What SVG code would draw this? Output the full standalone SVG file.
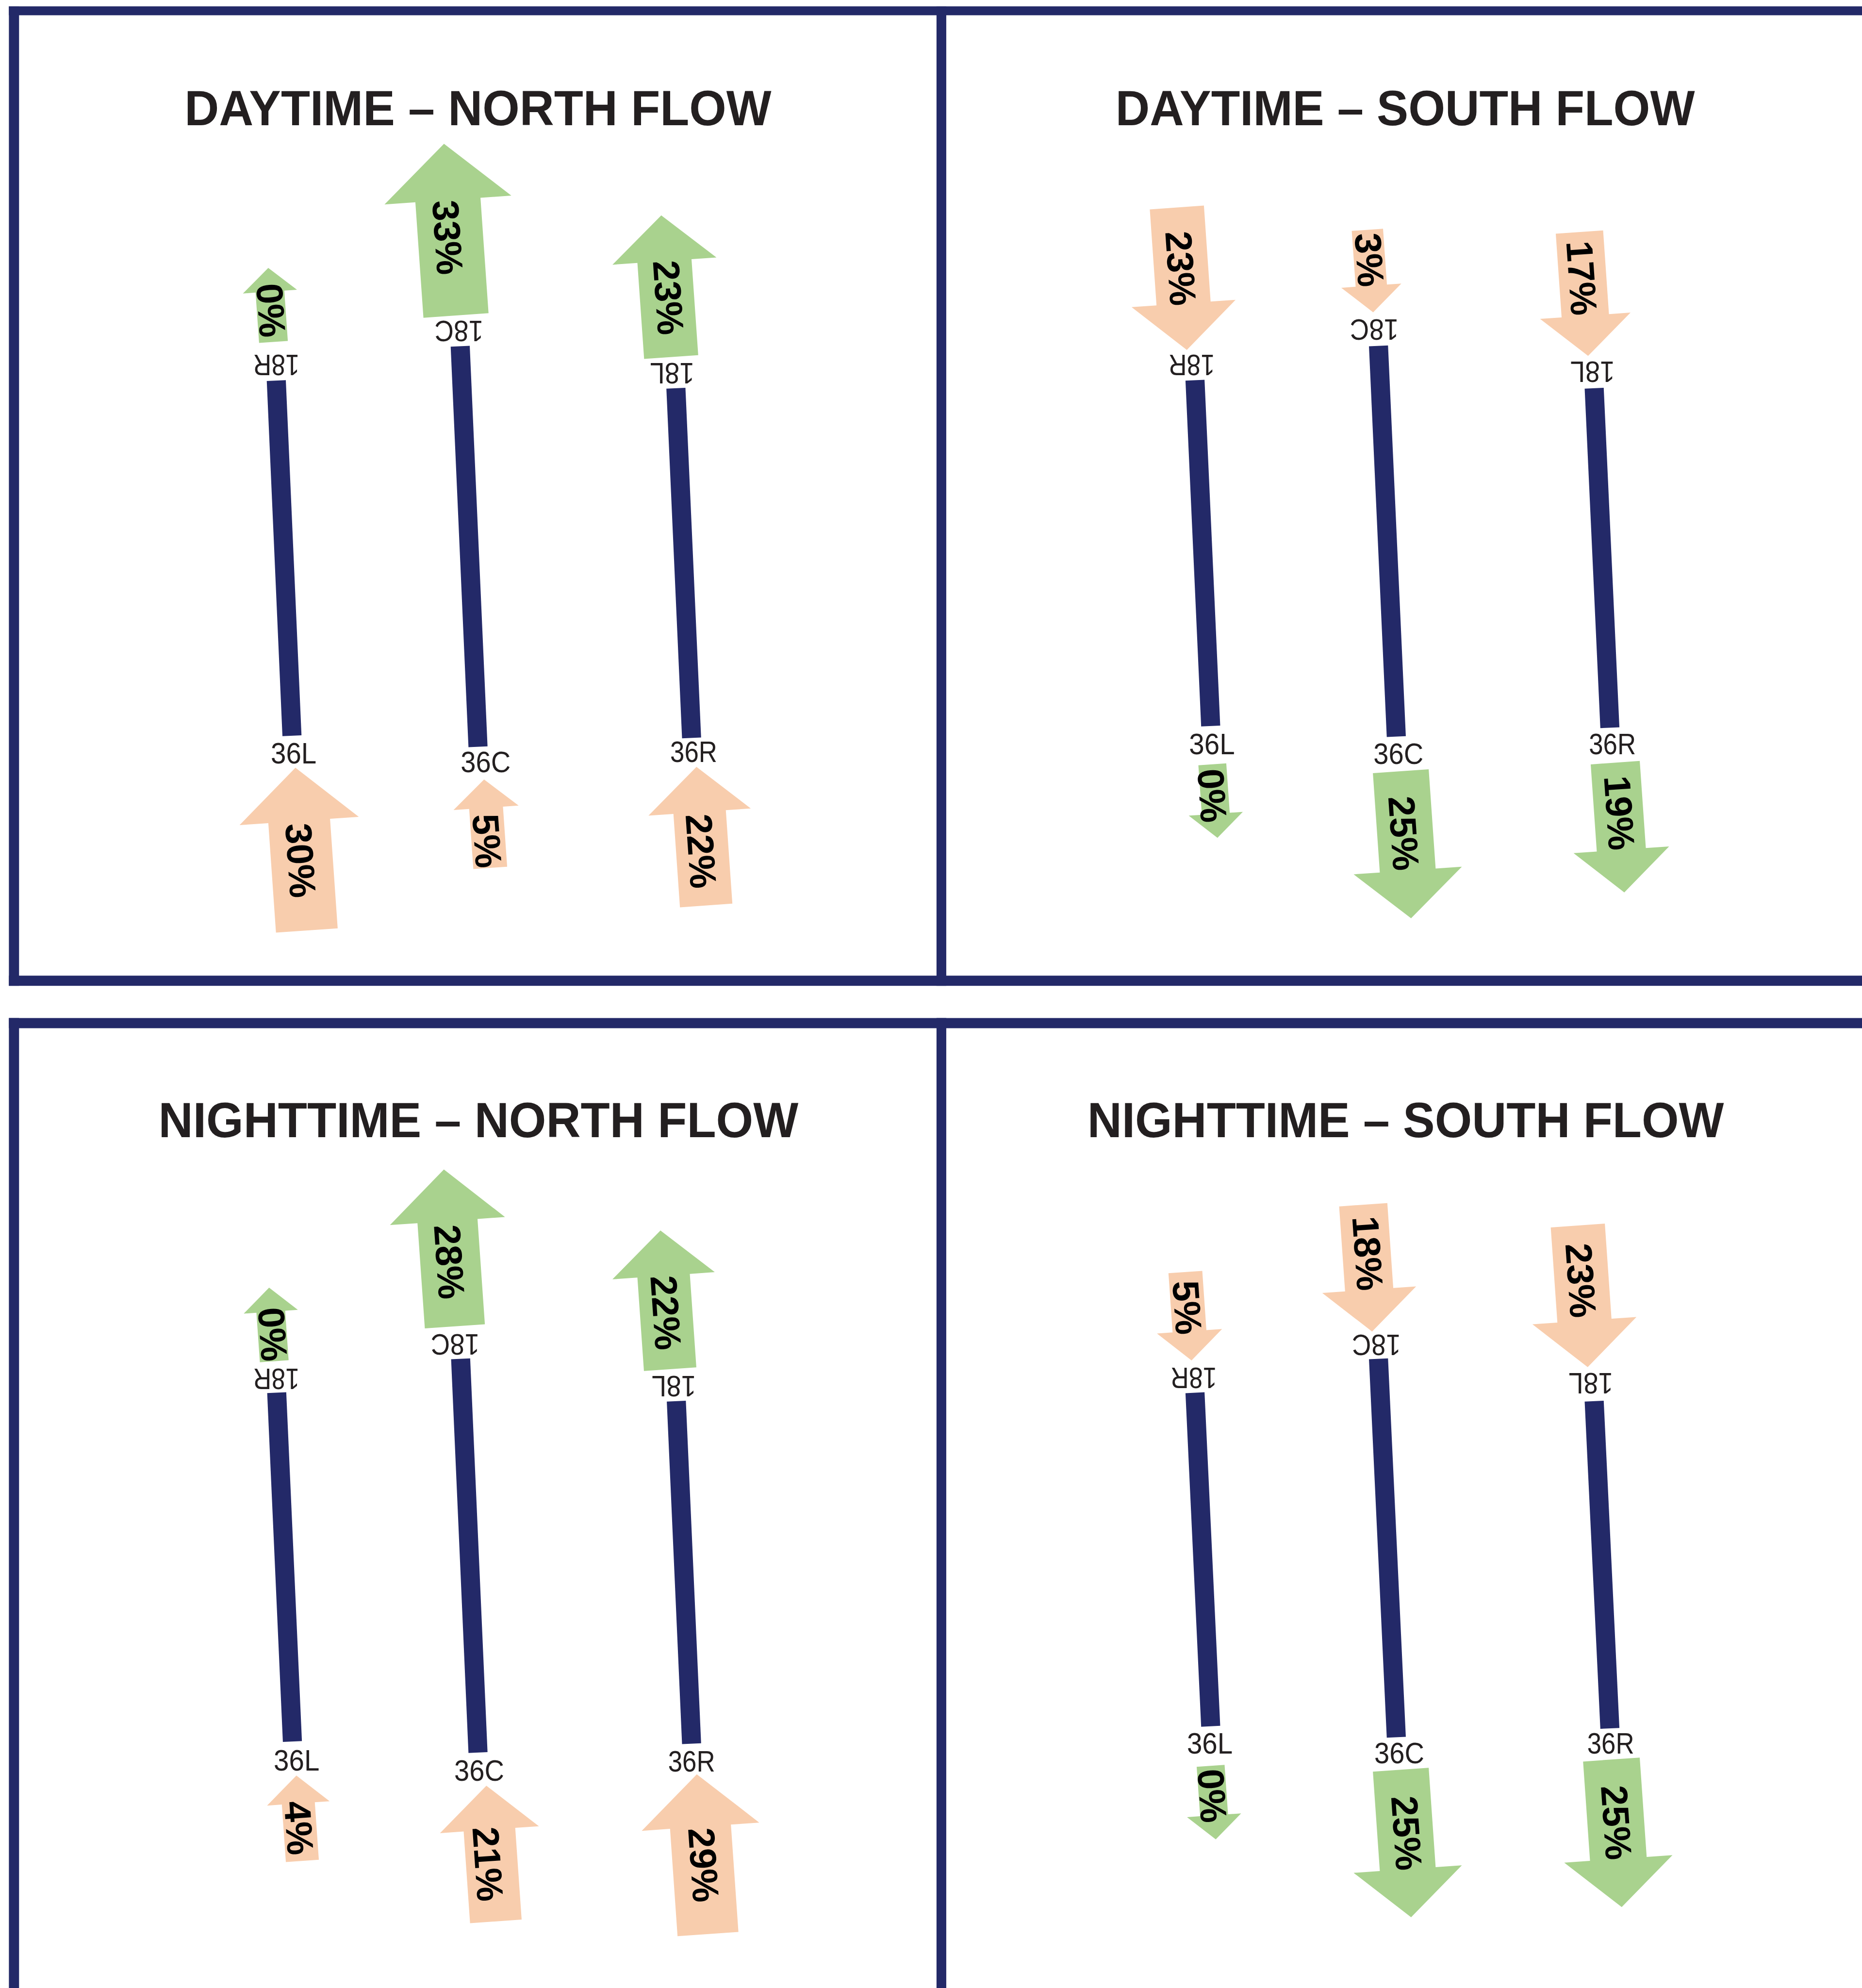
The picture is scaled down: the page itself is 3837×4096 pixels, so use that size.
<svg xmlns="http://www.w3.org/2000/svg" width="3837" height="4096" viewBox="0 0 3837 4096">
<style>
.bar{fill:#232968}
.rw{stroke:#232968;stroke-width:45;stroke-linecap:butt;fill:none}
.green{fill:#a9d28e}
.peach{fill:#f8cdad}
.title{font-family:"Liberation Sans",Arial,sans-serif;font-weight:bold;font-size:116px;fill:#231f20;text-anchor:middle}
.lbl{font-family:"Liberation Sans",Arial,sans-serif;font-size:70px;fill:#231f20;text-anchor:middle}
.pct{font-family:"Liberation Sans",Arial,sans-serif;font-weight:bold;font-size:88px;fill:#000;text-anchor:middle}
</style>
<rect width="3837" height="4096" fill="#fff"/>
<g transform="scale(0.87324)">
<g id="frame">
<rect class="bar" x="21" y="15" width="4373" height="21"/>
<rect class="bar" x="21" y="15" width="24" height="2311"/>
<rect class="bar" x="2210" y="15" width="23" height="2311"/>
<rect class="bar" x="21" y="2302" width="4373" height="24"/>
<rect class="bar" x="21" y="2402" width="4373" height="24"/>
<rect class="bar" x="21" y="2402" width="24" height="2289"/>
<rect class="bar" x="2210" y="2402" width="23" height="2289"/>
</g>

<!-- DAYTIME NORTH -->
<g id="panel-day-north">
<text class="title" x="1128" y="295" textLength="1385" lengthAdjust="spacingAndGlyphs">DAYTIME – NORTH FLOW</text>
<g id="dn-runway-L"><line class="rw" x1="652" y1="898" x2="689" y2="1736"/><text class="lbl" transform="translate(652 862) rotate(180)" y="25" textLength="109" lengthAdjust="spacingAndGlyphs">18R</text><text class="lbl" x="693" y="1801" textLength="108" lengthAdjust="spacingAndGlyphs">36L</text></g>
<g id="dn-runway-C"><line class="rw" x1="1086" y1="817" x2="1128" y2="1762"/><text class="lbl" transform="translate(1083 782) rotate(180)" y="25" textLength="115" lengthAdjust="spacingAndGlyphs">18C</text><text class="lbl" x="1146" y="1822" textLength="118" lengthAdjust="spacingAndGlyphs">36C</text></g>
<g id="dn-runway-R"><line class="rw" x1="1595" y1="916" x2="1632" y2="1741"/><text class="lbl" transform="translate(1586 882) rotate(180)" y="25" textLength="105" lengthAdjust="spacingAndGlyphs">18L</text><text class="lbl" x="1637" y="1798" textLength="111" lengthAdjust="spacingAndGlyphs">36R</text></g>
<g id="dn-arrow-18R"><polygon class="green" transform="translate(637 688) rotate(-4)" points="0,-56 64,0 34,0 34,119 -34,119 -34,0 -64,0"/><text class="pct" transform="translate(641 732) rotate(86)" y="32">0%</text></g>
<g id="dn-arrow-18C"><polygon class="green" transform="translate(1057 472) rotate(-4)" points="0,-133 150,0 77,0 77,273 -77,273 -77,0 -150,0"/><text class="pct" transform="translate(1058 560) rotate(86)" y="32">33%</text></g>
<g id="dn-arrow-18L"><polygon class="green" transform="translate(1568 616) rotate(-4)" points="0,-108 123,0 64,0 64,227 -64,227 -64,0 -123,0"/><text class="pct" transform="translate(1579 702) rotate(86)" y="32">23%</text></g>
<g id="dn-arrow-36L"><polygon class="peach" transform="translate(706 1937) rotate(-4)" points="0,-126 141,0 73,0 73,259 -73,259 -73,0 -141,0"/><text class="pct" transform="translate(711 2030) rotate(86)" y="32">30%</text></g>
<g id="dn-arrow-36C"><polygon class="peach" transform="translate(1147 1906) rotate(-4)" points="0,-67 77,0 40,0 40,142 -40,142 -40,0 -77,0"/><text class="pct" transform="translate(1151 1984) rotate(86)" y="32">5%</text></g>
<g id="dn-arrow-36R"><polygon class="peach" transform="translate(1651 1916) rotate(-4)" points="0,-107 121,0 62,0 62,221 -62,221 -62,0 -121,0"/><text class="pct" transform="translate(1656 2008) rotate(86)" y="32">22%</text></g>
</g>

<!-- DAYTIME SOUTH -->
<g id="panel-day-south">
<text class="title" x="3316" y="295" textLength="1367" lengthAdjust="spacingAndGlyphs">DAYTIME – SOUTH FLOW</text>
<g id="ds-runway-L"><line class="rw" x1="2820" y1="897" x2="2857" y2="1713"/><text class="lbl" transform="translate(2812 862) rotate(180)" y="25" textLength="109" lengthAdjust="spacingAndGlyphs">18R</text><text class="lbl" x="2860" y="1780" textLength="108" lengthAdjust="spacingAndGlyphs">36L</text></g>
<g id="ds-runway-C"><line class="rw" x1="3253" y1="816" x2="3295" y2="1738"/><text class="lbl" transform="translate(3243 778) rotate(180)" y="25" textLength="115" lengthAdjust="spacingAndGlyphs">18C</text><text class="lbl" x="3300" y="1803" textLength="118" lengthAdjust="spacingAndGlyphs">36C</text></g>
<g id="ds-runway-R"><line class="rw" x1="3762" y1="916" x2="3799" y2="1717"/><text class="lbl" transform="translate(3758 878) rotate(180)" y="25" textLength="105" lengthAdjust="spacingAndGlyphs">18L</text><text class="lbl" x="3805" y="1780" textLength="111" lengthAdjust="spacingAndGlyphs">36R</text></g>
<g id="ds-arrow-18R"><polygon class="peach" transform="translate(2793 716) rotate(-4)" points="0,110 -123,0 -64,0 -64,-227 64,-227 64,0 123,0"/><text class="pct" transform="translate(2788 633) rotate(86)" y="32">23%</text></g>
<g id="ds-arrow-18C"><polygon class="peach" transform="translate(3236 674) rotate(-4)" points="0,63 -71,0 -37,0 -37,-132 37,-132 37,0 71,0"/><text class="pct" transform="translate(3233 613) rotate(86)" y="32">3%</text></g>
<g id="ds-arrow-18L"><polygon class="peach" transform="translate(3741 745) rotate(-4)" points="0,95 -107,0 -56,0 -56,-198 56,-198 56,0 107,0"/><text class="pct" transform="translate(3734 656) rotate(86)" y="32">17%</text></g>
<g id="ds-arrow-36L"><polygon class="green" transform="translate(2869 1920) rotate(-4)" points="0,57 -64,0 -33,0 -33,-117 33,-117 33,0 64,0"/><text class="pct" transform="translate(2862 1877) rotate(86)" y="32">0%</text></g>
<g id="ds-arrow-36C"><polygon class="green" transform="translate(3322 2054) rotate(-4)" points="0,113 -128,0 -66,0 -66,-235 66,-235 66,0 128,0"/><text class="pct" transform="translate(3314 1966) rotate(86)" y="32">25%</text></g>
<g id="ds-arrow-36R"><polygon class="green" transform="translate(3826 2005) rotate(-4)" points="0,101 -113,0 -58,0 -58,-206 58,-206 58,0 113,0"/><text class="pct" transform="translate(3823 1918) rotate(86)" y="32">19%</text></g>
</g>

<!-- NIGHTTIME NORTH -->
<g id="panel-night-north">
<text class="title" x="1129" y="2683" textLength="1510" lengthAdjust="spacingAndGlyphs">NIGHTTIME – NORTH FLOW</text>
<g id="nn-runway-L"><line class="rw" x1="653" y1="3286" x2="690" y2="4109"/><text class="lbl" transform="translate(652 3254) rotate(180)" y="25" textLength="109" lengthAdjust="spacingAndGlyphs">18R</text><text class="lbl" x="700" y="4177" textLength="108" lengthAdjust="spacingAndGlyphs">36L</text></g>
<g id="nn-runway-C"><line class="rw" x1="1087" y1="3206" x2="1128" y2="4135"/><text class="lbl" transform="translate(1074 3173) rotate(180)" y="25" textLength="115" lengthAdjust="spacingAndGlyphs">18C</text><text class="lbl" x="1131" y="4202" textLength="118" lengthAdjust="spacingAndGlyphs">36C</text></g>
<g id="nn-runway-R"><line class="rw" x1="1596" y1="3306" x2="1632" y2="4114"/><text class="lbl" transform="translate(1590 3272) rotate(180)" y="25" textLength="105" lengthAdjust="spacingAndGlyphs">18L</text><text class="lbl" x="1632" y="4180" textLength="111" lengthAdjust="spacingAndGlyphs">36R</text></g>
<g id="nn-arrow-18R"><polygon class="green" transform="translate(639 3095) rotate(-4)" points="0,-57 64,0 34,0 34,117 -34,117 -34,0 -64,0"/><text class="pct" transform="translate(645 3148) rotate(86)" y="32">0%</text></g>
<g id="nn-arrow-18C"><polygon class="green" transform="translate(1056 2881) rotate(-4)" points="0,-122 136,0 71,0 71,249 -71,249 -71,0 -136,0"/><text class="pct" transform="translate(1062 2977) rotate(86)" y="32">28%</text></g>
<g id="nn-arrow-18L"><polygon class="green" transform="translate(1566 3010) rotate(-4)" points="0,-107 121,0 62,0 62,221 -62,221 -62,0 -121,0"/><text class="pct" transform="translate(1573 3097) rotate(86)" y="32">22%</text></g>
<g id="nn-arrow-36L"><polygon class="peach" transform="translate(704 4255) rotate(-4)" points="0,-66 74,0 39,0 39,136 -39,136 -39,0 -74,0"/><text class="pct" transform="translate(707 4313) rotate(86)" y="32">4%</text></g>
<g id="nn-arrow-36C"><polygon class="peach" transform="translate(1155 4317) rotate(-4)" points="0,-104 117,0 61,0 61,217 -61,217 -61,0 -117,0"/><text class="pct" transform="translate(1153 4398) rotate(86)" y="32">21%</text></g>
<g id="nn-arrow-36R"><polygon class="peach" transform="translate(1653 4310) rotate(-4)" points="0,-124 139,0 72,0 72,254 -72,254 -72,0 -139,0"/><text class="pct" transform="translate(1662 4400) rotate(86)" y="32">29%</text></g>
</g>

<!-- NIGHTTIME SOUTH -->
<g id="panel-night-south">
<text class="title" x="3317" y="2683" textLength="1502" lengthAdjust="spacingAndGlyphs">NIGHTTIME – SOUTH FLOW</text>
<g id="ns-runway-L"><line class="rw" x1="2820" y1="3286" x2="2857" y2="4073"/><text class="lbl" transform="translate(2817 3252) rotate(180)" y="25" textLength="109" lengthAdjust="spacingAndGlyphs">18R</text><text class="lbl" x="2855" y="4138" textLength="108" lengthAdjust="spacingAndGlyphs">36L</text></g>
<g id="ns-runway-C"><line class="rw" x1="3253" y1="3206" x2="3295" y2="4099"/><text class="lbl" transform="translate(3248 3174) rotate(180)" y="25" textLength="115" lengthAdjust="spacingAndGlyphs">18C</text><text class="lbl" x="3302" y="4160" textLength="118" lengthAdjust="spacingAndGlyphs">36C</text></g>
<g id="ns-runway-R"><line class="rw" x1="3762" y1="3306" x2="3799" y2="4078"/><text class="lbl" transform="translate(3754 3265) rotate(180)" y="25" textLength="105" lengthAdjust="spacingAndGlyphs">18L</text><text class="lbl" x="3801" y="4138" textLength="111" lengthAdjust="spacingAndGlyphs">36R</text></g>
<g id="ns-arrow-18R"><polygon class="peach" transform="translate(2807 3141) rotate(-4)" points="0,69 -77,0 -40,0 -40,-140 40,-140 40,0 77,0"/><text class="pct" transform="translate(2803 3085) rotate(86)" y="32">5%</text></g>
<g id="ns-arrow-18C"><polygon class="peach" transform="translate(3231 3043) rotate(-4)" points="0,99 -111,0 -57,0 -57,-201 57,-201 57,0 111,0"/><text class="pct" transform="translate(3229 2957) rotate(86)" y="32">18%</text></g>
<g id="ns-arrow-18L"><polygon class="peach" transform="translate(3739 3116) rotate(-4)" points="0,110 -123,0 -64,0 -64,-225 64,-225 64,0 123,0"/><text class="pct" transform="translate(3732 3021) rotate(86)" y="32">23%</text></g>
<g id="ns-arrow-36L"><polygon class="green" transform="translate(2865 4283) rotate(-4)" points="0,57 -64,0 -33,0 -33,-117 33,-117 33,0 64,0"/><text class="pct" transform="translate(2862 4237) rotate(86)" y="32">0%</text></g>
<g id="ns-arrow-36C"><polygon class="green" transform="translate(3322 4410) rotate(-4)" points="0,114 -128,0 -66,0 -66,-235 66,-235 66,0 128,0"/><text class="pct" transform="translate(3321 4325) rotate(86)" y="32">25%</text></g>
<g id="ns-arrow-36R"><polygon class="green" transform="translate(3819 4386) rotate(-4)" points="0,114 -128,0 -67,0 -67,-235 67,-235 67,0 128,0"/><text class="pct" transform="translate(3816 4300) rotate(86)" y="32">25%</text></g>
</g>
</g>
</svg>
